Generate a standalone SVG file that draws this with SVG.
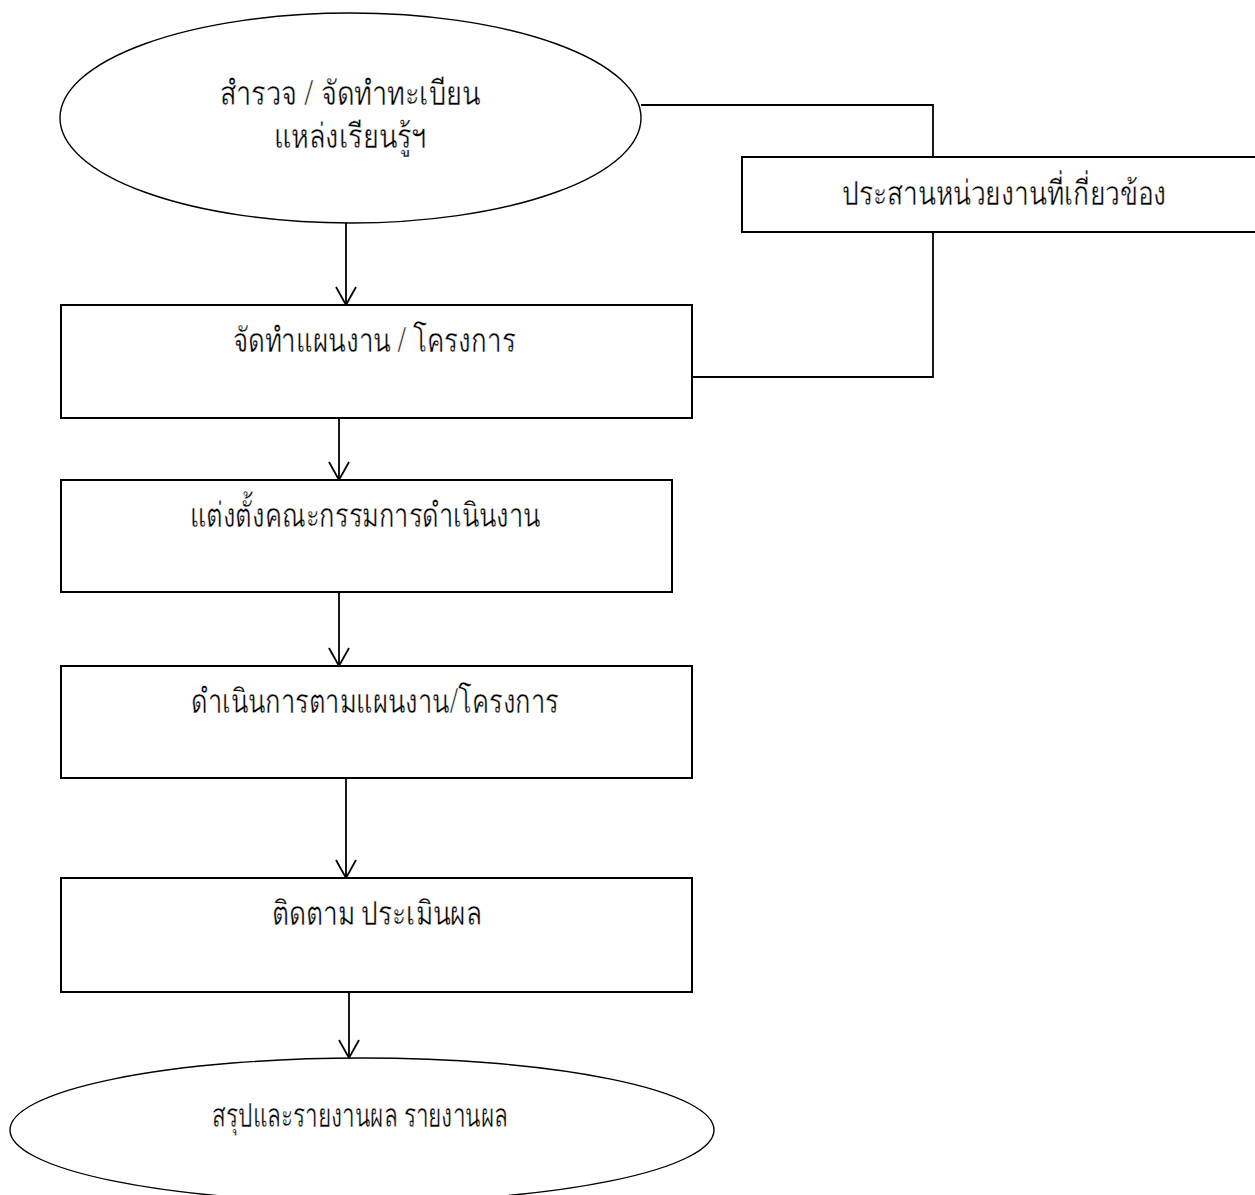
<svg xmlns="http://www.w3.org/2000/svg" width="1255" height="1195" viewBox="0 0 1255 1195">
  <style>
    .shape { fill: #ffffff; stroke: #000000; stroke-width: 2; }
    .oval { fill: #ffffff; stroke: #000000; stroke-width: 1.4; }
    .label { font-family: "Noto Sans", "DejaVu Sans", "Liberation Sans", sans-serif; font-size: 34px; font-weight: 300; fill: #000000; stroke: #ffffff; stroke-width: 0.45px; text-anchor: middle; }
    .link { fill: none; stroke: #000000; stroke-width: 1.8; }
  </style>
  <defs>
    <!-- open V arrowhead pointing along the line direction -->
    <marker id="arrow" markerUnits="userSpaceOnUse" markerWidth="24" markerHeight="26" viewBox="-21 -13 24 26" refX="0" refY="0" orient="auto">
      <path d="M-18,-10 L0,0 L-18,10" fill="none" stroke="#000000" stroke-width="1.8"/>
    </marker>
  </defs>
  <rect width="1255" height="1195" fill="#ffffff"/>

  <g id="connectors">
    <line class="link" x1="346" y1="223" x2="346" y2="305" marker-end="url(#arrow)"/>
    <line class="link" x1="339" y1="418" x2="339" y2="480" marker-end="url(#arrow)"/>
    <line class="link" x1="339" y1="592" x2="339" y2="666" marker-end="url(#arrow)"/>
    <line class="link" x1="346" y1="778" x2="346" y2="878" marker-end="url(#arrow)"/>
    <line class="link" x1="349" y1="992" x2="349" y2="1058" marker-end="url(#arrow)"/>
    <polyline class="link" points="641,105 933,105 933,157"/>
    <polyline class="link" points="933,232 933,377 692,377"/>
  </g>

  <g id="survey">
    <ellipse class="oval" cx="350.5" cy="118" rx="290.5" ry="105"/>
    <text class="label" x="350" y="105" textLength="261" lengthAdjust="spacingAndGlyphs">สำรวจ / จัดทำทะเบียน</text>
    <text class="label" x="350" y="148" textLength="153" lengthAdjust="spacingAndGlyphs">แหล่งเรียนรู้ฯ</text>
  </g>

  <g id="coordinate">
    <rect class="shape" x="742" y="157" width="520" height="75"/>
    <text class="label" x="1004" y="205" textLength="325" lengthAdjust="spacingAndGlyphs">ประสานหน่วยงานที่เกี่ยวข้อง</text>
  </g>

  <g id="plan">
    <rect class="shape" x="61" y="305" width="631" height="113"/>
    <text class="label" x="374" y="352" textLength="283" lengthAdjust="spacingAndGlyphs">จัดทำแผนงาน / โครงการ</text>
  </g>

  <g id="committee">
    <rect class="shape" x="61" y="480" width="611" height="112"/>
    <text class="label" x="365" y="527" textLength="351" lengthAdjust="spacingAndGlyphs">แต่งตั้งคณะกรรมการดำเนินงาน</text>
  </g>

  <g id="execute">
    <rect class="shape" x="61" y="666" width="631" height="112"/>
    <text class="label" x="375" y="713" textLength="368" lengthAdjust="spacingAndGlyphs">ดำเนินการตามแผนงาน/โครงการ</text>
  </g>

  <g id="evaluate">
    <rect class="shape" x="61" y="878" width="631" height="114"/>
    <text class="label" x="377" y="925" textLength="210" lengthAdjust="spacingAndGlyphs">ติดตาม ประเมินผล</text>
  </g>

  <g id="report">
    <ellipse class="oval" cx="362" cy="1130" rx="352" ry="72"/>
    <text class="label" x="360" y="1127" textLength="296" lengthAdjust="spacingAndGlyphs">สรุปและรายงานผล รายงานผล</text>
  </g>
</svg>
